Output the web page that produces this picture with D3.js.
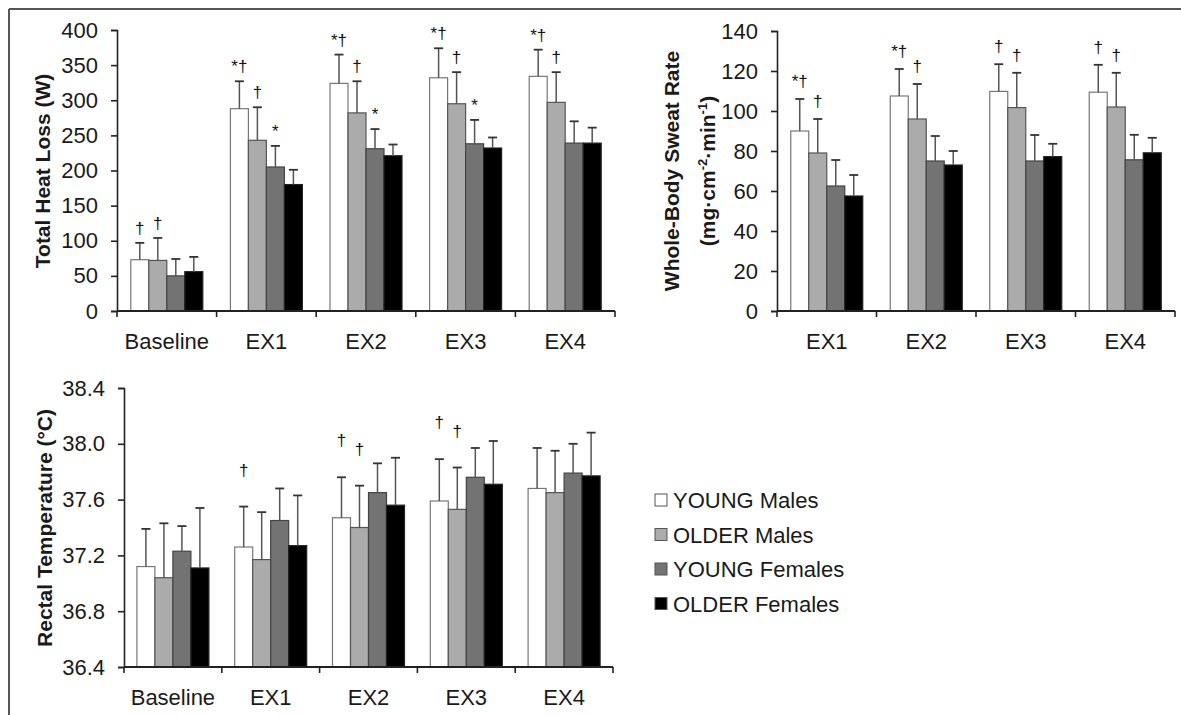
<!DOCTYPE html>
<html>
<head>
<meta charset="utf-8">
<script src="https://cdn.jsdelivr.net/npm/d3@7"></script>
<style>
  body { margin: 0; background: #fff; }
  text { font-family: "Liberation Sans", Arial, sans-serif; fill: #1a1a1a; }
</style>
</head>
<body>
<div id="chart"></div>
<script>
// Groups (series)
var groups = ["YOUNG Males", "OLDER Males", "YOUNG Females", "OLDER Females"];

// Total heat loss (W)
var heatCats = ["Baseline", "EX1", "EX2", "EX3", "EX4"];
var heatTicks = [0, 50, 100, 150, 200, 250, 300, 350, 400];
var heatMean = [[73, 72, 50, 56], [288, 243, 205, 180], [324, 282, 231, 221], [332, 295, 238, 232], [334, 297, 239, 239]];
var heatSD = [[24, 32, 24, 21], [39, 47, 30, 21], [41, 45, 28, 16], [42, 45, 34, 15], [38, 43, 31, 22]];
var heatSig = [["†", "†", "", ""], ["*†", "†", "*", ""], ["*†", "†", "*", ""], ["*†", "†", "*", ""], ["*†", "†", "", ""]];

// Whole-body sweat rate
var sweatCats = ["EX1", "EX2", "EX3", "EX4"];
var sweatTicks = [0, 20, 40, 60, 80, 100, 120, 140];
var sweatMean = [[90, 79, 62.5, 57.5], [107.5, 96, 75, 73], [109.8, 101.7, 75, 77.2], [109.4, 102, 75.6, 79.1]];
var sweatSD = [[16, 17, 13, 10.5], [13.5, 17.5, 12.5, 7], [13.6, 17.4, 13, 6.4], [13.7, 17.1, 12.5, 7.5]];
var sweatSig = [["*†", "†", "", ""], ["*†", "†", "", ""], ["†", "†", "", ""], ["†", "†", "", ""]];

// Rectal temperature
var tempCats = ["Baseline", "EX1", "EX2", "EX3", "EX4"];
var tempTicks = [36.4, 36.8, 37.2, 37.6, 38.0, 38.4];
var tempMean = [[37.12, 37.04, 37.23, 37.11], [37.26, 37.17, 37.45, 37.27], [37.47, 37.40, 37.65, 37.56], [37.59, 37.53, 37.76, 37.71], [37.68, 37.65, 37.79, 37.77]];
var tempSD = [[0.27, 0.39, 0.18, 0.43], [0.29, 0.34, 0.23, 0.36], [0.29, 0.30, 0.21, 0.34], [0.30, 0.30, 0.21, 0.31], [0.29, 0.30, 0.21, 0.31]];
var tempSig = [["", "", "", ""], ["†", "", "", ""], ["†", "†", "", ""], ["†", "†", "", ""], ["", "", "", ""]];

var fills = ["#ffffff", "#ababab", "#737373", "#000000"];
var strokes = ["#777", "#555", "#444", "#222"];

var svg = d3.select("#chart").append("svg")
    .attr("width", 1181)
    .attr("height", 715);

// frame lines (top and left)
svg.append("line").attr("x1", 9).attr("y1", 9).attr("x2", 1181).attr("y2", 9)
    .attr("stroke", "#555").attr("stroke-width", 2);
svg.append("line").attr("x1", 9).attr("y1", 9).attr("x2", 9).attr("y2", 715)
    .attr("stroke", "#555").attr("stroke-width", 2);

function drawPanel(opt) {
    var g = svg.append("g");

    var x = d3.scaleBand().domain(opt.cats).range([opt.x0, opt.x1]);
    var bw = x.bandwidth();
    var x1 = d3.scaleBand().domain(groups).range([(bw - 72) / 2, (bw + 72) / 2]);
    var y = d3.scaleLinear().domain(opt.domain).range([opt.y0, opt.y1]);

    // y axis
    var yAxis = d3.axisLeft(y).tickValues(opt.ticks).tickSizeOuter(0).tickSize(6).tickPadding(13)
        .tickFormat(opt.fmt);
    var ya = g.append("g").attr("transform", "translate(" + opt.x0 + ",0)").call(yAxis);
    ya.selectAll("text").attr("font-size", "22px").attr("fill", "#1a1a1a");
    ya.selectAll("line, path").attr("stroke", "#222").attr("stroke-width", 1.6);

    // bars
    opt.cats.forEach(function(c, i) {
        var cg = g.append("g").attr("transform", "translate(" + x(c) + ",0)");
        cg.selectAll("rect")
            .data(groups)
            .enter()
            .append("rect")
            .attr("x", function(d) { return x1(d); })
            .attr("y", function(d, j) { return y(opt.mean[i][j]); })
            .attr("width", x1.bandwidth())
            .attr("height", function(d, j) { return y(opt.domain[0]) - y(opt.mean[i][j]); })
            .attr("fill", function(d, j) { return fills[j]; })
            .attr("stroke", function(d, j) { return strokes[j]; })
            .attr("stroke-width", 1.2);

        // error bars (upper only)
        cg.selectAll("line.err")
            .data(groups)
            .enter()
            .append("line")
            .attr("class", "err")
            .attr("x1", function(d) { return x1(d) + x1.bandwidth() / 2; })
            .attr("x2", function(d) { return x1(d) + x1.bandwidth() / 2; })
            .attr("y1", function(d, j) { return y(opt.mean[i][j]); })
            .attr("y2", function(d, j) { return y(opt.mean[i][j] + opt.sd[i][j]); })
            .attr("stroke", "#555").attr("stroke-width", 1.5);
        cg.selectAll("line.cap")
            .data(groups)
            .enter()
            .append("line")
            .attr("class", "cap")
            .attr("x1", function(d) { return x1(d) + x1.bandwidth() / 2 - 4.5; })
            .attr("x2", function(d) { return x1(d) + x1.bandwidth() / 2 + 4.5; })
            .attr("y1", function(d, j) { return y(opt.mean[i][j] + opt.sd[i][j]); })
            .attr("y2", function(d, j) { return y(opt.mean[i][j] + opt.sd[i][j]); })
            .attr("stroke", "#333").attr("stroke-width", 1.8);

        // significance marks
        cg.selectAll("text.sig")
            .data(groups)
            .enter()
            .append("text")
            .attr("class", "sig")
            .attr("x", function(d) { return x1(d) + x1.bandwidth() / 2; })
            .attr("y", function(d, j) { return y(opt.mean[i][j] + opt.sd[i][j]) - opt.sigGap; })
            .attr("text-anchor", "middle")
            .attr("font-size", "17px")
            .attr("font-family", "DejaVu Sans, sans-serif")
            .style("fill", "#111")
            .text(function(d, j) { return opt.sig[i][j]; });
    });

    // x axis: line with ticks at band boundaries, labels at band centres
    var xa = g.append("g").attr("transform", "translate(0," + opt.y0 + ")");
    xa.call(d3.axisBottom(x).tickSize(0).tickPadding(22));
    xa.select("path").remove();
    xa.selectAll("text").attr("font-size", "22px").attr("fill", "#1a1a1a");
    xa.append("line").attr("x1", opt.x0).attr("x2", opt.x1)
        .attr("stroke", "#222").attr("stroke-width", 1.8);
    var bounds = opt.cats.map(function(c) { return x(c); }).concat([opt.x1]);
    xa.selectAll("line.bt")
        .data(bounds)
        .enter()
        .append("line")
        .attr("class", "bt")
        .attr("x1", function(d) { return d; })
        .attr("x2", function(d) { return d; })
        .attr("y1", 0)
        .attr("y2", 6)
        .attr("stroke", "#222").attr("stroke-width", 1.6);

    return g;
}

drawPanel({
    cats: heatCats, mean: heatMean, sd: heatSD, sig: heatSig,
    domain: [0, 400], ticks: heatTicks, fmt: d3.format("d"),
    x0: 117, x1: 615, y0: 311, y1: 30, sigGap: 9
});

drawPanel({
    cats: sweatCats, mean: sweatMean, sd: sweatSD, sig: sweatSig,
    domain: [0, 140], ticks: sweatTicks, fmt: d3.format("d"),
    x0: 777, x1: 1175, y0: 311, y1: 31, sigGap: 12
});

drawPanel({
    cats: tempCats, mean: tempMean, sd: tempSD, sig: tempSig,
    domain: [36.4, 38.4], ticks: tempTicks, fmt: d3.format(".1f"),
    x0: 124, x1: 613, y0: 667, y1: 388, sigGap: 31
});

// axis titles
svg.append("text")
    .attr("transform", "translate(43,171) rotate(-90)")
    .attr("text-anchor", "middle").attr("dy", "0.35em")
    .attr("font-size", "21px").attr("font-weight", "bold")
    .text("Total Heat Loss (W)");

svg.append("text")
    .attr("transform", "translate(672,171) rotate(-90)")
    .attr("text-anchor", "middle").attr("dy", "0.35em")
    .attr("font-size", "21px").attr("font-weight", "bold")
    .text("Whole-Body Sweat Rate");

var unit = svg.append("text")
    .attr("transform", "translate(708,171) rotate(-90)")
    .attr("text-anchor", "middle").attr("dy", "0.35em")
    .attr("font-size", "21px").attr("font-weight", "bold");
unit.append("tspan").text("(mg·cm");
unit.append("tspan").attr("font-size", "13px").attr("dy", "-8").text("-2");
unit.append("tspan").attr("dy", "8").text("·min");
unit.append("tspan").attr("font-size", "13px").attr("dy", "-8").text("-1");
unit.append("tspan").attr("dy", "8").text(")");

svg.append("text")
    .attr("transform", "translate(45,528) rotate(-90)")
    .attr("text-anchor", "middle").attr("dy", "0.35em")
    .attr("font-size", "21px").attr("font-weight", "bold")
    .text("Rectal Temperature (°C)");

// legend
var legend = svg.append("g").attr("transform", "translate(655,500)");
var rows = legend.selectAll("g")
    .data(groups)
    .enter()
    .append("g")
    .attr("transform", function(d, i) { return "translate(0," + (i * 34.5) + ")"; });
rows.append("rect")
    .attr("x", 0).attr("y", -6).attr("width", 12).attr("height", 12)
    .attr("fill", function(d, i) { return fills[i]; })
    .attr("stroke", "#555").attr("stroke-width", 1);
rows.append("text")
    .attr("x", 18).attr("y", 8)
    .attr("font-size", "22px")
    .text(function(d) { return d; });
</script>
</body>
</html>
